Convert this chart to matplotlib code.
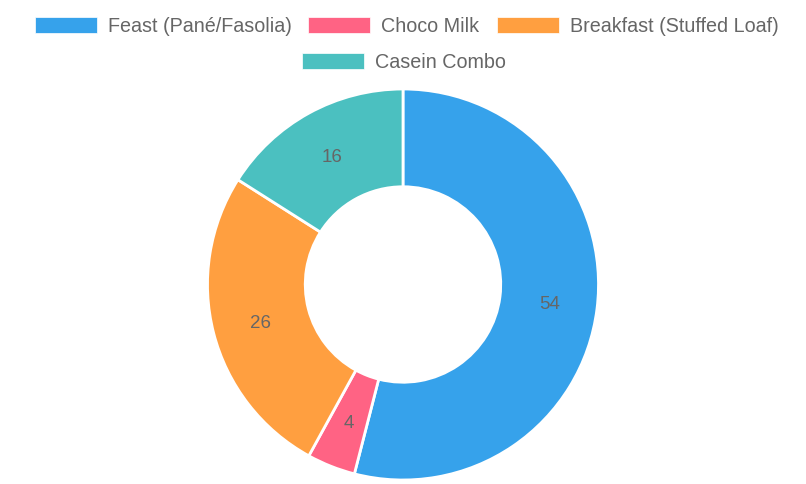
import matplotlib
matplotlib.use("Agg")
import matplotlib.pyplot as plt
from matplotlib.patches import Rectangle
import numpy as np

plt.rcParams['font.family'] = ['Liberation Sans', 'DejaVu Sans']

labels = ['Feast (Pané/Fasolia)', 'Choco Milk', 'Breakfast (Stuffed Loaf)', 'Casein Combo']
values = [54, 4, 26, 16]
colors = ['#36A2EB', '#FF6384', '#FF9F40', '#4BC0C0']

W, H = 806, 484
fig = plt.figure(figsize=(W / 100, H / 100), dpi=100)

# doughnut: centre (403, 284.5) px, outer radius 195.5 px
cx, cy, R = 403, 284.5, 195.5
ax = fig.add_axes([(cx - R) / W, (H - cy - R) / H, 2 * R / W, 2 * R / H])

wedges, _ = ax.pie(values, colors=colors, radius=1.0, startangle=90,
                   counterclock=False,
                   wedgeprops=dict(width=0.5, edgecolor='white', linewidth=2))
ax.set_xlim(-1, 1)
ax.set_ylim(-1, 1)
ax.set_aspect('equal')
ax.axis('off')

total = sum(values)
ang = 90.0
for v in values:
    mid = ang - v / total * 360 / 2
    r = 0.755
    ax.text(r * np.cos(np.radians(mid)), r * np.sin(np.radians(mid)), str(v),
            ha='center', va='center_baseline', fontsize=13.5, color='#666666')
    ang -= v / total * 360

# legend drawn by hand, positions in pixels
legend_pos = [(35, 25), (308, 25), (497, 25), (302, 61)]
for (x, y), lab, col in zip(legend_pos, labels, colors):
    fig.patches.append(Rectangle((x / W, (H - y - 8) / H), 62 / W, 16 / H,
                                 transform=fig.transFigure, facecolor=col,
                                 edgecolor='white', linewidth=0.5))
    fig.text((x + 73) / W, (H - y) / H, lab, ha='left', va='center_baseline',
             fontsize=14.2, color='#666666')

fig.savefig('out.png', dpi=100, facecolor='white')
